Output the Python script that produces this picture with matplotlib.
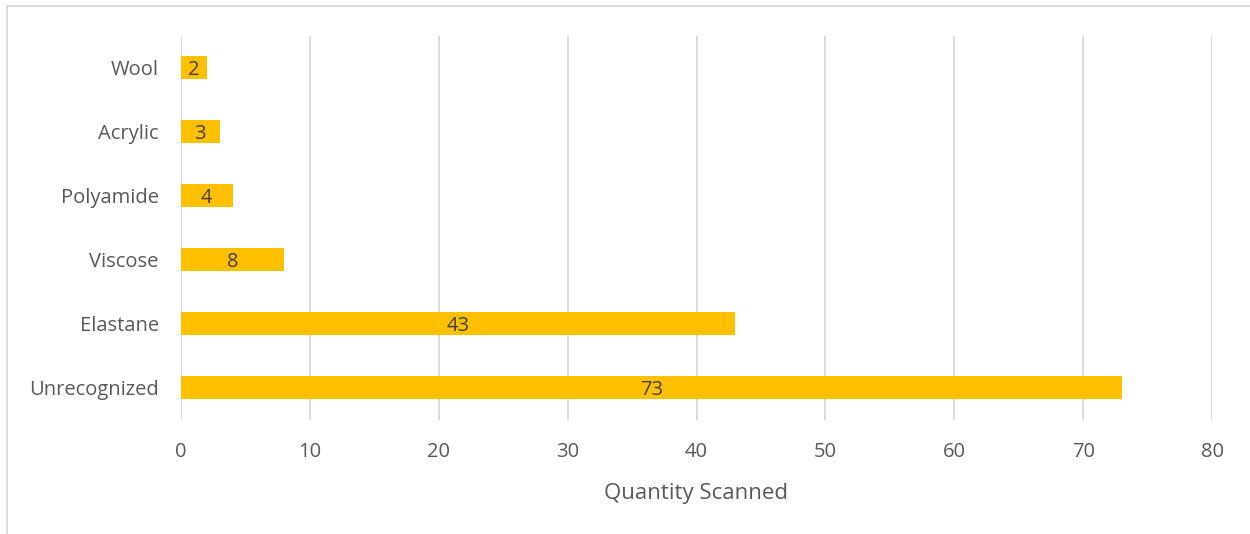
import matplotlib
matplotlib.use("Agg")
import matplotlib.pyplot as plt
from matplotlib.lines import Line2D

# data
materials = ["Unrecognized", "Elastane", "Viscose", "Polyamide", "Acrylic", "Wool"]
quantities = [73, 43, 8, 4, 3, 2]
x_ticks = [0, 10, 20, 30, 40, 50, 60, 70, 80]

BAR_COLOR = "#FFC000"
GRID_COLOR = "#D9D9D9"
TEXT_COLOR = "#595959"

plt.rcParams["font.family"] = ["Open Sans", "DejaVu Sans"]

W, H = 1250, 534
fig = plt.figure(figsize=(W / 100, H / 100), dpi=100)
ax = fig.add_axes([181 / W, 1 - 419.5 / H, (1212 - 181) / W, (419.5 - 35.5) / H])

bars = ax.barh(materials, quantities, height=0.36, color=BAR_COLOR, zorder=3)
labels = ax.bar_label(bars, labels=[str(q) for q in quantities], label_type="center",
                      color="#404040", fontsize=14.5)
for t in labels:
    t.set_va("center_baseline")

ax.set_xlim(0, 80)
ax.set_ylim(-0.5, len(materials) - 0.5)
ax.set_xticks(x_ticks)
ax.grid(axis="x", color=GRID_COLOR, linewidth=1.3, zorder=0)
ax.tick_params(axis="both", length=0, colors=TEXT_COLOR, labelsize=14.5)
ax.tick_params(axis="x", pad=16)
ax.tick_params(axis="y", pad=16)
for s in ax.spines.values():
    s.set_visible(False)

ax.set_xlabel("Quantity Scanned", color=TEXT_COLOR, fontsize=16, labelpad=15)

# chart frame (only top and left edges visible in the crop)
fig.add_artist(Line2D([7 / W, 7 / W], [0, 1 - 6 / H], transform=fig.transFigure,
                      color=GRID_COLOR, linewidth=1.3))
fig.add_artist(Line2D([7 / W, 1], [1 - 6 / H, 1 - 6 / H], transform=fig.transFigure,
                      color=GRID_COLOR, linewidth=1.3))

fig.savefig("out.png", dpi=100)
